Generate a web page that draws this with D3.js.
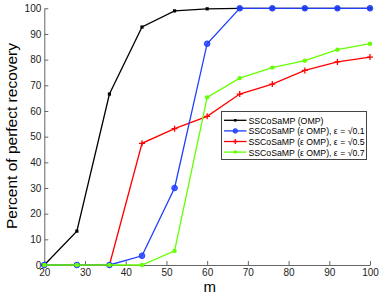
<!DOCTYPE html>
<html>
<head>
<meta charset="utf-8">
<script src="https://cdn.jsdelivr.net/npm/d3@7"></script>
<style>
  body { margin: 0; background: #fff; }
  svg { font-family: "Liberation Sans", Arial, Helvetica, sans-serif; }
</style>
</head>
<body>
<div id="chart"></div>
<script>
// data
const mValues = [20, 28, 36, 44, 52, 60, 68, 76, 84, 92, 100];
const ompBlack = [0, 13.2, 66.6, 92.7, 99, 99.8, 100, 100, 100, 100, 100];
const eps01Blue = [0, 0, 0, 3.6, 30, 86.2, 100, 100, 100, 100, 100];
const eps05Red = [0, 0, 0, 47.4, 53.1, 57.9, 66.6, 70.5, 75.8, 79.1, 81];
const eps07Green = [0, 0, 0, 0, 5.5, 65.3, 72.8, 76.9, 79.6, 83.9, 86.2];
const xTicks = [20, 30, 40, 50, 60, 70, 80, 90, 100];
const yTicks = [0, 10, 20, 30, 40, 50, 60, 70, 80, 90, 100];

const seriesList = [
    { name: "SSCoSaMP (OMP)", values: ompBlack, color: "#000000", marker: "square", len: 75 },
    { name: "SSCoSaMP (\u03B5 OMP), \u03B5 = \u221A0.1", values: eps01Blue, color: "#1f3fff", marker: "circle", len: 116 },
    { name: "SSCoSaMP (\u03B5 OMP), \u03B5 = \u221A0.5", values: eps05Red, color: "#ff0000", marker: "plus", len: 116 },
    { name: "SSCoSaMP (\u03B5 OMP), \u03B5 = \u221A0.7", values: eps07Green, color: "#66ff00", marker: "dot", len: 116 }
];

const width = 382, height = 299;

const svg = d3.select("#chart").append("svg")
    .attr("width", width)
    .attr("height", height);

const x = d3.scaleLinear().domain([20, 100]).range([44.3, 370]);
const y = d3.scaleLinear().domain([0, 100]).range([265, 8.3]);

const axisColor = "#666";

// x axis, ticks pointing inward like matlab
const xAxis = svg.append("g")
    .attr("transform", `translate(0,${y(0)})`)
    .call(d3.axisBottom(x).tickValues(xTicks).tickSizeInner(-4).tickSizeOuter(0).tickPadding(4));
xAxis.selectAll("text").attr("font-size", 10).attr("fill", "#222");

const yAxis = svg.append("g")
    .attr("transform", `translate(${x(20)},0)`)
    .call(d3.axisLeft(y).tickValues(yTicks).tickSizeInner(-4).tickSizeOuter(0).tickPadding(3));
yAxis.selectAll("text").attr("font-size", 10).attr("fill", "#222");

svg.selectAll(".domain, .tick line").attr("stroke", axisColor);

// axis labels
svg.append("text")
    .attr("x", 209.7)
    .attr("y", 292)
    .attr("text-anchor", "middle")
    .attr("font-size", 15)
    .text("m");

svg.append("text")
    .attr("transform", `translate(17,136) rotate(-90)`)
    .attr("text-anchor", "middle")
    .attr("font-size", 15.5)
    .text("Percent of perfect recovery");

const line = d3.line()
    .x((d, i) => x(mValues[i]))
    .y(d => y(d));

function drawMarker(g, type, color, cx, cy, k) {
    k = k || 1;
    if (type === "square") {
        g.append("rect").attr("x", cx - 1.6 * k).attr("y", cy - 1.6 * k)
            .attr("width", 3.2 * k).attr("height", 3.2 * k)
            .attr("fill", color);
    } else if (type === "circle") {
        g.append("circle").attr("cx", cx).attr("cy", cy).attr("r", 2.8 * k)
            .attr("fill", color).attr("fill-opacity", 0.8).attr("stroke", color).attr("stroke-width", 1);
    } else if (type === "plus") {
        g.append("path").attr("d", `M${cx - 3 * k},${cy}H${cx + 3 * k}M${cx},${cy - 3 * k}V${cy + 3 * k}`)
            .attr("stroke", color).attr("stroke-width", 1.3);
    } else {
        g.append("circle").attr("cx", cx).attr("cy", cy).attr("r", 2.2 * k).attr("fill", color);
    }
}

// draw lines - green drawn last so it sits on top along the zero line
const drawOrder = [0, 2, 1, 3];
drawOrder.forEach(k => {
    const s = seriesList[k];
    const g = svg.append("g");
    g.append("path")
        .datum(s.values)
        .attr("d", line)
        .attr("fill", "none")
        .attr("stroke", s.color)
        .attr("stroke-width", 1.3);
    s.values.forEach((v, i) => drawMarker(g, s.marker, s.color, x(mValues[i]), y(v)));
});

// legend
const legend = svg.append("g").attr("transform", "translate(221.5,111.5)");
legend.append("rect")
    .attr("width", 145).attr("height", 48)
    .attr("fill", "#fff").attr("stroke", "#444").attr("stroke-width", 1);
seriesList.forEach((s, i) => {
    const ly = 8.8 + i * 10.6;
    const row = legend.append("g");
    row.append("line")
        .attr("x1", 2.5).attr("x2", 25).attr("y1", ly).attr("y2", ly)
        .attr("stroke", s.color).attr("stroke-width", 1.3);
    drawMarker(row, s.marker, s.color, 13.8, ly, 0.8);
    row.append("text")
        .attr("x", 27).attr("y", ly + 3.4)
        .attr("font-size", 9.5)
        .attr("textLength", s.len)
        .attr("lengthAdjust", "spacingAndGlyphs")
        .text(s.name);
});
</script>
</body>
</html>
